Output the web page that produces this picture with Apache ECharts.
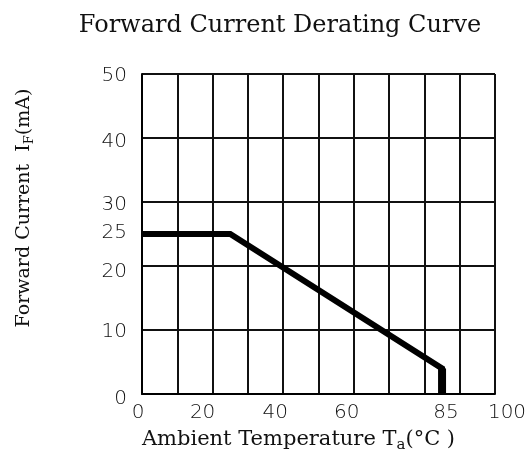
<!DOCTYPE html>
<html><head><meta charset="utf-8">
<script src="https://cdn.jsdelivr.net/npm/echarts@6/dist/echarts.min.js"></script>
<style>html,body{margin:0;padding:0;background:#fff}#c{width:526px;height:452px}</style>
</head><body><div id="c"></div>
<script>
const chartTitle = 'Forward Current Derating Curve';
const xTicks = [0, 20, 40, 60, 85, 100];
const yTicks = [0, 10, 20, 25, 30, 40, 50];
const curveTemp = [0, 25, 85, 85];
const curveCurrent = [25, 25, 4, 0];
const cutoffTemp = [85, 85];
const cutoffCurrent = [4, 0];

// label nudges in px (style only) to mimic the original placement
const xNudge = {0: -4, 20: -10, 40: -8, 60: -7, 85: 4, 100: 12};
const yNudge = {0: 5, 10: 2, 20: 6, 25: -1, 30: 3, 40: 4, 50: 2};

const tickFont = {fontFamily: 'DejaVu Sans', fontSize: 20, fontWeight: 200, color: '#111'};
const xRich = {}, yRich = {};
Object.keys(xNudge).forEach(k => {
  const s = xNudge[k];
  xRich['x' + k] = Object.assign({}, tickFont, {padding: s < 0 ? [0, -2 * s, 0, 0] : [0, 0, 0, 2 * s]});
});
Object.keys(yNudge).forEach(k => {
  const d = yNudge[k];
  yRich['y' + k] = Object.assign({}, tickFont, {padding: d > 0 ? [2 * d, 0, 0, 0] : [0, 0, -2 * d, 0]});
});

const serif = 'DejaVu Serif';
const chart = echarts.init(document.getElementById('c'));
chart.setOption({
  backgroundColor: '#fff',
  animation: false,
  title: {
    text: chartTitle, left: 275, top: 9, textAlign: 'center',
    textStyle: {fontFamily: serif, fontSize: 24, fontWeight: 'normal', color: '#111'}
  },
  grid: {left: 142, right: 31, top: 74, bottom: 58, outerBoundsMode: 'none', containLabel: false},
  xAxis: {
    type: 'value', min: 0, max: 100, interval: 10,
    axisLine: {show: true, onZero: false, lineStyle: {color: '#000', width: 2}},
    axisTick: {show: false},
    splitLine: {show: true, lineStyle: {color: '#111', width: 2}},
    axisLabel: {
      customValues: xTicks, margin: 9,
      formatter: v => '{x' + v + '|' + v + '}', rich: xRich
    },
    name: '{n|Ambient Temperature T}{sub|a}{n|(°C )}',
    nameLocation: 'middle', nameGap: 32,
    nameTextStyle: {
      padding: [0, 40, 0, 0],
      rich: {
        n: {fontFamily: serif, fontSize: 21, color: '#111'},
        sub: {fontFamily: serif, fontSize: 15, color: '#111', padding: [12, 0, 0, 0]}
      }
    }
  },
  yAxis: {
    type: 'value', min: 0, max: 50, interval: 10,
    axisLine: {show: true, onZero: false, lineStyle: {color: '#000', width: 2}},
    axisTick: {show: false},
    splitLine: {show: true, lineStyle: {color: '#111', width: 2}},
    axisLabel: {
      customValues: yTicks, margin: 15,
      formatter: v => '{y' + v + '|' + v + '}', rich: yRich
    },
    name: '{n|Forward Current  I}{sub|F}{n|(mA)}',
    nameLocation: 'middle', nameGap: 106, nameRotate: 90,
    nameTextStyle: {
      padding: [0, 0, 0, 52],
      rich: {
        n: {fontFamily: serif, fontSize: 19, color: '#111'},
        sub: {fontFamily: serif, fontSize: 13, color: '#111', padding: [10, 0, 0, 0]}
      }
    }
  },
  series: [
    {
      type: 'line', name: 'derating', symbol: 'none',
      data: curveTemp.map((t, i) => [t, curveCurrent[i]]),
      lineStyle: {color: '#000', width: 6, join: 'miter'}
    },
    {
      type: 'line', name: 'cutoff', symbol: 'none',
      data: cutoffTemp.map((t, i) => [t, cutoffCurrent[i]]),
      lineStyle: {color: '#000', width: 8}
    }
  ]
});
</script></body></html>
